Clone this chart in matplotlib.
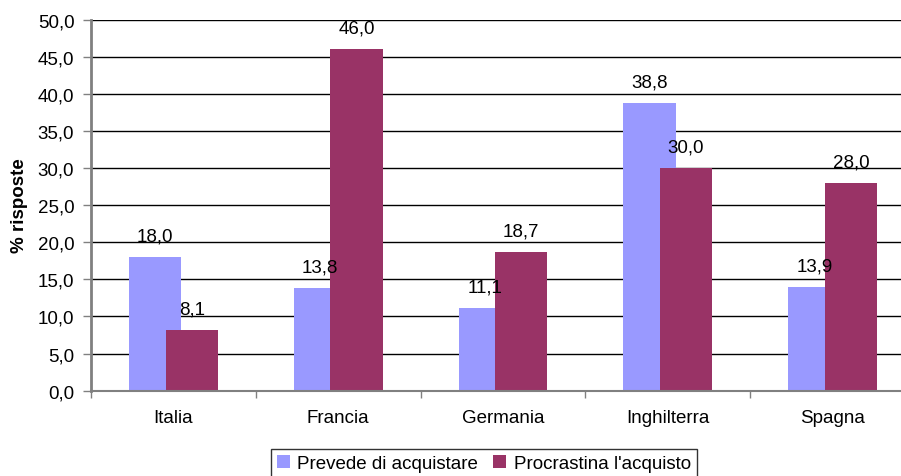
import matplotlib
matplotlib.use("Agg")
import matplotlib.pyplot as plt
import numpy as np

# Survey results by country (% of responses)
countries = ["Italia", "Francia", "Germania", "Inghilterra", "Spagna"]
series_names = ["Prevede di acquistare", "Procrastina l'acquisto"]
prevede = [18.0, 13.8, 11.1, 38.8, 13.9]
procrastina = [8.1, 46.0, 18.7, 30.0, 28.0]
y_ticks = [0, 5, 10, 15, 20, 25, 30, 35, 40, 45, 50]

colors = ["#9999FF", "#993366"]

plt.rcParams["font.family"] = ["Liberation Sans", "DejaVu Sans"]
FS = 13.5

fig = plt.figure(figsize=(9.01, 4.77), dpi=100)
ax = fig.add_axes([0.101, 0.179, 0.9145, 0.778])

x = np.arange(len(countries))
width = 0.316
offset = 0.111

for vals, dx, col, name in [(prevede, -offset, colors[0], series_names[0]),
                            (procrastina, offset, colors[1], series_names[1])]:
    ax.bar(x + dx, vals, width=width, color=col, label=name, zorder=2)
    for xi, v in zip(x + dx, vals):
        ax.annotate(f"{v:.1f}".replace(".", ","), (xi, v),
                    xytext=(0, 9), textcoords="offset points",
                    ha="center", va="bottom", fontsize=FS, color="black",
                    zorder=3)

ax.set_xlim(-0.5, len(countries) - 0.5)
ax.set_ylim(0, 50)
ax.set_yticks(y_ticks)
ax.set_yticklabels([f"{t:.1f}".replace(".", ",") for t in y_ticks], fontsize=FS)
ax.yaxis.grid(True, color="black", linewidth=1.0, zorder=1)
ax.set_axisbelow(True)

ax.set_xticks(x)
ax.set_xticklabels(countries, fontsize=FS)
ax.set_xticks(np.arange(len(countries) + 1) - 0.5, minor=True)
ax.tick_params(axis="x", which="major", length=0, pad=13)
ax.tick_params(axis="x", which="minor", length=5, width=1, color="#808080")
ax.tick_params(axis="y", length=6, width=1, color="#808080", pad=6)

for s in ["top", "right"]:
    ax.spines[s].set_visible(False)
ax.spines["left"].set_color("#808080")
ax.spines["left"].set_linewidth(2)
ax.spines["bottom"].set_color("#808080")
ax.spines["bottom"].set_linewidth(1.5)

ax.set_ylabel("% risposte", fontsize=FS, fontweight="bold", labelpad=7)

leg = fig.legend(loc="upper center", bbox_to_anchor=(0.537, 0.056), ncol=2,
                 fontsize=FS, frameon=True, fancybox=False, edgecolor="black",
                 handlelength=0.7, handleheight=0.7, handletextpad=0.4,
                 columnspacing=0.8, borderpad=0.3, borderaxespad=0)
leg.get_frame().set_linewidth(1.0)

fig.savefig("out.png", dpi=100)
